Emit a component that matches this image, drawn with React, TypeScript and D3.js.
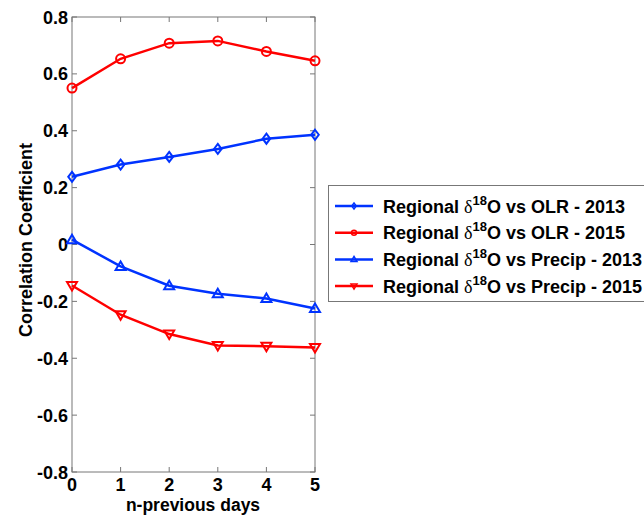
import * as d3 from 'd3';
import React, { useRef, useEffect } from 'react';

const days = [0, 1, 2, 3, 4, 5];
const olr2013 = [0.238, 0.281, 0.308, 0.336, 0.372, 0.386];
const olr2015 = [0.55, 0.653, 0.708, 0.716, 0.679, 0.646];
const precip2013 = [0.017, -0.077, -0.145, -0.173, -0.19, -0.225];
const precip2015 = [-0.144, -0.247, -0.315, -0.355, -0.358, -0.362];
const yTicks = [-0.8, -0.6, -0.4, -0.2, 0, 0.2, 0.4, 0.6, 0.8];
const yTickLabels = ['-0.8', '-0.6', '-0.4', '-0.2', '0', '0.2', '0.4', '0.6', '0.8'];
const seriesNames = ['OLR - 2013', 'OLR - 2015', 'Precip - 2013', 'Precip - 2015'];

const W = 644, H = 516;
const FONT = 'Liberation Sans, Arial, sans-serif';

function Chart() {
    const ref = useRef(null);

    useEffect(() => {
        const svg = d3.select(ref.current);
        svg.selectAll('*').remove();

        const x = d3.scaleLinear().domain([0, 5]).range([72, 315]);
        const y = d3.scaleLinear().domain([-0.8, 0.8]).range([472, 17]);

        const series = [
            { vals: olr2013, color: '#0033ff', marker: 'diamond' },
            { vals: olr2015, color: '#ff0000', marker: 'circle' },
            { vals: precip2013, color: '#0033ff', marker: 'up' },
            { vals: precip2015, color: '#ff0000', marker: 'down' },
        ];

        const g = svg.append('g');

        // axes box
        g.append('rect')
            .attr('x', x(0)).attr('y', y(0.8))
            .attr('width', x(5) - x(0)).attr('height', y(-0.8) - y(0.8))
            .attr('fill', 'white').attr('stroke', '#777').attr('stroke-width', 1);

        // inward ticks on all four sides
        const tl = 5;
        days.forEach(d => {
            g.append('line').attr('x1', x(d)).attr('x2', x(d)).attr('y1', y(-0.8)).attr('y2', y(-0.8) - tl).attr('stroke', '#777');
            g.append('line').attr('x1', x(d)).attr('x2', x(d)).attr('y1', y(0.8)).attr('y2', y(0.8) + tl).attr('stroke', '#777');
            g.append('text').attr('x', x(d)).attr('y', 491)
                .attr('text-anchor', 'middle').attr('font-family', FONT).attr('font-weight', 'bold')
                .attr('font-size', 18).text(d);
        });
        yTicks.forEach((t, i) => {
            g.append('line').attr('x1', x(0)).attr('x2', x(0) + tl).attr('y1', y(t)).attr('y2', y(t)).attr('stroke', '#777');
            g.append('line').attr('x1', x(5)).attr('x2', x(5) - tl).attr('y1', y(t)).attr('y2', y(t)).attr('stroke', '#777');
            g.append('text').attr('x', 68).attr('y', y(t) + 6.5)
                .attr('text-anchor', 'end').attr('font-family', FONT).attr('font-weight', 'bold')
                .attr('font-size', 18).text(yTickLabels[i]);
        });

        // axis labels
        g.append('text').attr('x', 193).attr('y', 511)
            .attr('text-anchor', 'middle').attr('font-family', FONT).attr('font-weight', 'bold')
            .attr('font-size', 17.5).text('n-previous days');
        g.append('text').attr('transform', `translate(32,240) rotate(-90)`)
            .attr('text-anchor', 'middle').attr('font-family', FONT).attr('font-weight', 'bold')
            .attr('font-size', 18).text('Correlation Coefficient');

        const drawMarker = (sel, type, color, cx, cy, s, sw) => {
            if (type === 'circle') {
                sel.append('circle').attr('cx', cx).attr('cy', cy).attr('r', s)
                    .attr('fill', 'none').attr('stroke', color).attr('stroke-width', sw);
            } else {
                let pts;
                if (type === 'diamond') pts = [[0, -s], [s * 0.75, 0], [0, s], [-s * 0.75, 0]];
                else if (type === 'up') pts = [[0, -s], [s, s * 0.7], [-s, s * 0.7]];
                else pts = [[0, s], [s, -s * 0.7], [-s, -s * 0.7]];
                sel.append('polygon').attr('points', pts.map(p => [cx + p[0], cy + p[1]].join(',')).join(' '))
                    .attr('fill', 'none').attr('stroke', color).attr('stroke-width', sw);
            }
        };

        const line = d3.line().x((d, i) => x(days[i])).y(d => y(d));
        series.forEach(s => {
            g.append('path').datum(s.vals).attr('d', line)
                .attr('fill', 'none').attr('stroke', s.color).attr('stroke-width', 2.5);
            s.vals.forEach((v, i) => drawMarker(g, s.marker, s.color, x(days[i]), y(v), s.marker === 'circle' ? 4.5 : 5, 2));
        });

        // legend
        const lg = svg.append('g');
        lg.append('rect').attr('x', 328.5).attr('y', 185.5).attr('width', 330).attr('height', 116)
            .attr('fill', 'white').attr('stroke', '#777');
        series.forEach((s, i) => {
            const ly = 206 + i * 26.7;
            lg.append('line').attr('x1', 335).attr('x2', 373).attr('y1', ly).attr('y2', ly)
                .attr('stroke', s.color).attr('stroke-width', 2.5);
            drawMarker(lg, s.marker, s.color, 354, ly, s.marker === 'circle' ? 2.5 : 3, 1.5);
            const t = lg.append('text').attr('x', 383).attr('y', ly + 6.5)
                .attr('font-family', FONT).attr('font-weight', 'bold').attr('font-size', 18);
            t.append('tspan').text('Regional ');
            t.append('tspan').attr('font-family', 'Liberation Serif, serif').attr('font-weight', 'normal').text('\u03b4');
            t.append('tspan').attr('dy', -8).attr('font-size', 13).text('18');
            t.append('tspan').attr('dy', 8).text('O vs ' + seriesNames[i]);
        });
    }, []);

    return (
        <svg ref={ref} width={W} height={H} style={{ position: 'absolute', left: 0, top: 0 }}></svg>
    );
}

export default function App() {
    return <Chart />;
}
